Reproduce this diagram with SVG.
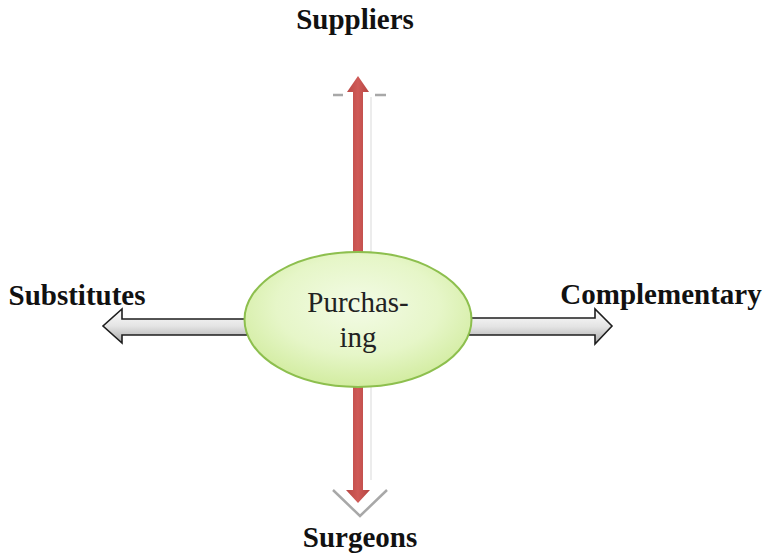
<svg xmlns="http://www.w3.org/2000/svg" width="765" height="555" viewBox="0 0 765 555">
<style>
.lbl{font-family:"Liberation Serif","Times New Roman",serif;font-weight:bold;font-size:29px;fill:#111;text-anchor:middle}
.inner{font-family:"Liberation Serif","Times New Roman",serif;font-size:29px;fill:#222;text-anchor:middle}
.grayarrow{fill:url(#gGray);stroke:#1e1e1e;stroke-width:1.6;stroke-linejoin:miter}
.red{fill:url(#gRed)}
.ghost{fill:none;stroke:#a8a8a8;stroke-width:2.5}
</style>
<defs>
<linearGradient id="gGray" x1="0" y1="0" x2="0" y2="1">
<stop offset="0" stop-color="#ffffff"/>
<stop offset="0.5" stop-color="#e4e4e4"/>
<stop offset="1" stop-color="#a9a9a9"/>
</linearGradient>
<linearGradient id="gRed" x1="0" y1="0" x2="1" y2="0">
<stop offset="0" stop-color="#b84744"/>
<stop offset="0.5" stop-color="#d05a57"/>
<stop offset="1" stop-color="#b24340"/>
</linearGradient>
<radialGradient id="gGreen" cx="0.5" cy="0.4" r="0.6">
<stop offset="0" stop-color="#f3fbe6"/>
<stop offset="0.6" stop-color="#e6f6c8"/>
<stop offset="1" stop-color="#d2eca0"/>
</radialGradient>
</defs>
<g id="connectors">
<g id="arrow-vertical">
<path class="ghost" d="M333 95 H343 M375 95 H386"/>
<path fill="none" stroke="#ececec" stroke-width="2" d="M371 97 V480"/>
<path class="ghost" d="M333 490 L360 516 L387 490"/>
<polygon class="red" points="358,76 369,92 363,92 363,490 370,490 358,503 346,490 353,490 353,92 347,92"/>
</g>
<polygon id="arrow-left" class="grayarrow" points="247,319 122,319 122,309 103,326 122,343 122,335 247,335"/>
<polygon id="arrow-right" class="grayarrow" points="469,318 595,318 595,309 612,326 595,344 595,335 469,335"/>
</g>
<g id="node-purchasing">
<ellipse cx="358" cy="319.5" rx="113.5" ry="67.5" fill="url(#gGreen)" stroke="#8dbf4e" stroke-width="2"/>
<text class="inner" x="358" y="312">Purchas-</text>
<text class="inner" x="358" y="347">ing</text>
</g>
<g id="node-suppliers"><text class="lbl" x="355" y="29">Suppliers</text></g>
<g id="node-substitutes"><text class="lbl" x="77" y="305">Substitutes</text></g>
<g id="node-complementary"><text class="lbl" x="661" y="304">Complementary</text></g>
<g id="node-surgeons"><text class="lbl" x="360" y="547">Surgeons</text></g>
</svg>
